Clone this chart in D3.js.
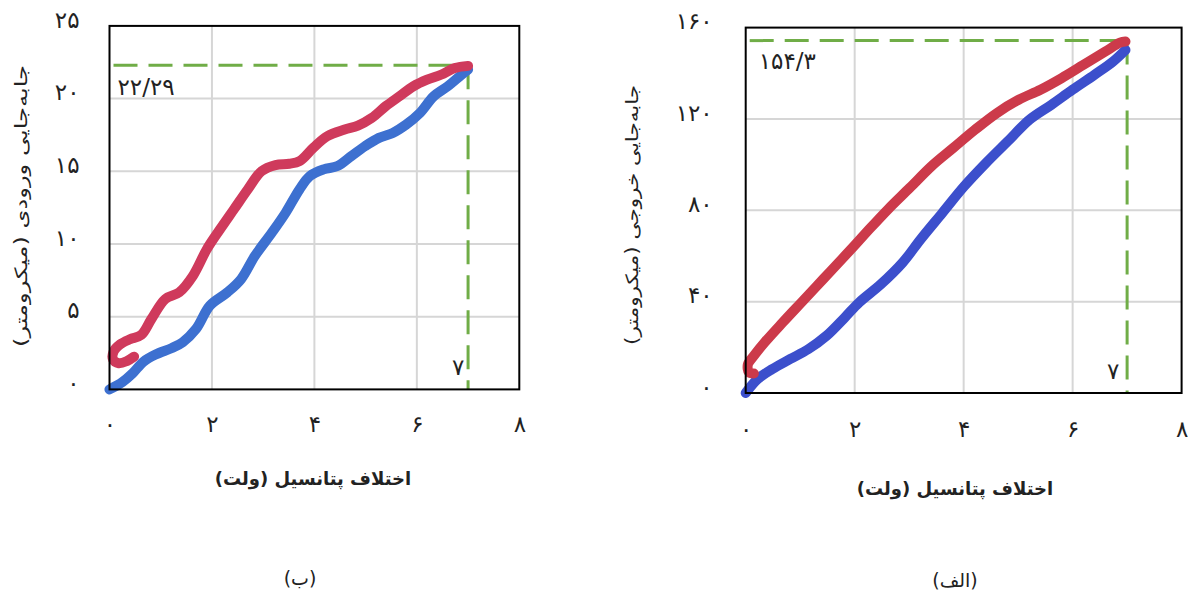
<!DOCTYPE html>
<html><head><meta charset="utf-8">
<script src="https://cdn.jsdelivr.net/npm/d3@7"></script>
<style>
html,body{margin:0;padding:0;background:#fff;}
svg{display:block;font-family:"DejaVu Sans",sans-serif;}
</style></head><body>
<svg id="chart" width="1188" height="596"></svg>
<script>
// ---------- data ----------
const xTicks = [0, 2, 4, 6, 8];
const inputTicks = [0, 5, 10, 15, 20, 25];
const outputTicks = [0, 40, 80, 120, 160];

// panel (ب): input displacement (µm) vs voltage (V)
const inputRising = [[0,0],[0.25,0.5],[0.45,1.1],[0.66,1.9],[0.9,2.4],[1.22,2.85],[1.43,3.25],[1.69,4.16],[1.96,5.76],[2.30,6.67],[2.57,7.59],[2.84,9.19],[3.17,10.78],[3.44,12.16],[3.71,13.76],[3.91,14.67],[4.18,15.13],[4.45,15.36],[4.72,16.04],[4.99,16.73],[5.26,17.30],[5.53,17.64],[5.79,18.21],[6.06,19.01],[6.33,20.16],[6.60,20.84],[6.87,21.64],[7.0,22.0]];
const inputFalling = [[7.0,22.25],[6.74,22.10],[6.47,21.64],[6.20,21.30],[5.93,20.84],[5.66,20.16],[5.39,19.47],[5.12,18.67],[4.85,18.14],[4.59,17.87],[4.25,17.41],[3.98,16.62],[3.71,15.70],[3.51,15.52],[3.24,15.43],[2.97,15.01],[2.70,13.76],[2.43,12.39],[2.16,11.02],[1.90,9.64],[1.63,7.82],[1.36,6.67],[1.09,6.22],[0.82,4.85],[0.62,3.75],[0.40,3.45],[0.21,3.1],[0.08,2.6],[0.07,2.05],[0.18,1.8],[0.34,1.95],[0.48,2.25]];
const inputPeak = {v: 7, d: 22.29};

// panel (الف): output displacement (µm) vs voltage (V)
const outputRising = [[0,0],[0.22,6.1],[0.49,10.5],[0.82,14.9],[1.15,19.2],[1.48,25.0],[1.82,33.1],[2.08,39.6],[2.48,47.6],[2.88,57.1],[3.21,67.3],[3.61,78.9],[4.01,90.5],[4.41,100.7],[4.81,110.2],[5.21,119.7],[5.61,126.2],[6.00,132.8],[6.40,139.3],[6.74,145.1],[6.97,150.2]];
const outputFalling = [[6.97,153.9],[6.87,153.4],[6.60,149.5],[6.20,143.7],[5.80,137.9],[5.41,132.8],[5.01,128.4],[4.61,122.6],[4.21,115.3],[3.81,107.3],[3.41,99.3],[3.01,89.8],[2.61,80.4],[2.21,70.2],[1.82,60.0],[1.42,49.8],[1.02,39.6],[0.68,30.9],[0.35,22.2],[0.15,16.3],[0.04,12.5],[0.06,9.0],[0.15,8.5]];
const outputPeak = {v: 7, d: 154.3};

const xTitle = "اختلاف پتانسیل (ولت)";
const inputTitle = "جابه‌جایی ورودی  (میکرومتر)";
const outputTitle = "جابه‌جایی خروجی (میکرومتر)";
const panelLabels = ["(ب)", "(الف)"];

// ---------- helpers ----------
const faDigits = "۰۱۲۳۴۵۶۷۸۹";
const fa = v => String(v).replace(/\d/g, d => faDigits[d]).replace(".", "/");

const svg = d3.select("#chart");

function panel(cfg) {
  const x = d3.scaleLinear().domain([0, 8]).range([cfg.left, cfg.right]);
  const y = d3.scaleLinear().domain([0, cfg.ymax]).range([cfg.bottom, cfg.top]);
  const g = svg.append("g");

  // grid
  g.append("g").selectAll("line").data(xTicks.slice(1, -1)).join("line")
    .attr("x1", d => x(d)).attr("x2", d => x(d))
    .attr("y1", y(0)).attr("y2", y(cfg.ymax))
    .attr("stroke", "#d6d6d6").attr("stroke-width", 2);
  g.append("g").selectAll("line").data(cfg.yTicks.slice(1, -1)).join("line")
    .attr("x1", x(0)).attr("x2", x(8))
    .attr("y1", d => y(d)).attr("y2", d => y(d))
    .attr("stroke", "#d6d6d6").attr("stroke-width", 2);

  // dashed peak markers
  const dash = g.append("g").attr("stroke", "#70ad47").attr("stroke-width", 3)
    .attr("stroke-dasharray", "24,11").attr("fill", "none");
  dash.append("line").attr("x1", x(0) + 4).attr("x2", x(cfg.peak.v))
    .attr("y1", y(cfg.peak.d)).attr("y2", y(cfg.peak.d));
  dash.append("line").attr("x1", x(cfg.peak.v)).attr("x2", x(cfg.peak.v))
    .attr("y1", y(cfg.peak.d)).attr("y2", y(0));

  // curves
  const line = d3.line().x(d => x(d[0])).y(d => y(d[1])).curve(d3.curveCatmullRom.alpha(0.5));
  g.append("path").datum(cfg.rising).attr("d", line)
    .attr("fill", "none").attr("stroke", cfg.blue).attr("stroke-width", 10)
    .attr("stroke-linecap", "round").attr("stroke-linejoin", "round");
  g.append("path").datum(cfg.falling).attr("d", line)
    .attr("fill", "none").attr("stroke", cfg.red).attr("stroke-width", 10)
    .attr("stroke-linecap", "round").attr("stroke-linejoin", "round");

  // frame
  g.append("rect").attr("x", x(0)).attr("y", y(cfg.ymax))
    .attr("width", x(8) - x(0)).attr("height", y(0) - y(cfg.ymax))
    .attr("fill", "none").attr("stroke", "#000").attr("stroke-width", 2);

  // axes (labels only)
  const ax = g.append("g").attr("transform", `translate(0,${y(0)})`)
    .call(d3.axisBottom(x).tickValues(xTicks).tickSize(0).tickPadding(cfg.xPad).tickFormat(fa));
  const ay = g.append("g").attr("transform", `translate(${x(0)},0)`)
    .call(d3.axisLeft(y).tickValues(cfg.yTicks).tickSize(0).tickPadding(cfg.yPad).tickFormat(fa));
  [ax, ay].forEach(a => {
    a.select(".domain").remove();
    a.selectAll("text").attr("font-size", 23).attr("fill", "#222").attr("font-family", "DejaVu Sans");
  });
  ay.selectAll("text").attr("dy", "0.05em");

  // annotations
  g.append("text").attr("x", x(0) + cfg.peakLabelDx).attr("y", y(cfg.peak.d) + cfg.peakLabelDy)
    .attr("font-size", 23).attr("fill", "#222").text(fa(cfg.peak.d));
  g.append("text").attr("x", x(cfg.peak.v) - cfg.vLabelDx).attr("y", y(0) - 14)
    .attr("text-anchor", "middle").attr("font-size", 23).attr("fill", "#222").text(fa(cfg.peak.v));

  // titles
  g.append("text").attr("x", cfg.xTitleX).attr("y", cfg.xTitleY)
    .attr("direction", "rtl").attr("text-anchor", "middle")
    .attr("font-size", 18).attr("font-weight", "bold").attr("fill", "#222").text(xTitle);
  g.append("text")
    .attr("transform", `translate(${cfg.yTitleX},${cfg.yTitleY}) rotate(-90)`)
    .attr("direction", "rtl").attr("text-anchor", "middle").attr("dominant-baseline", "central")
    .attr("font-size", 17).attr("fill", "#222")
    .attr("textLength", cfg.yTitleLen).attr("lengthAdjust", "spacingAndGlyphs")
    .text(cfg.yTitle);
  g.append("text").attr("x", cfg.subX).attr("y", cfg.subY)
    .attr("direction", "rtl").attr("text-anchor", "middle")
    .attr("font-size", 19).attr("fill", "#222").text(cfg.sub);
}

panel({
  left: 109.5, right: 519.3, top: 25.9, bottom: 389.4, ymax: 25,
  yTicks: inputTicks, rising: inputRising, falling: inputFalling, peak: inputPeak,
  blue: "#3d70d0", red: "#cf3a5c", xPad: 26, yPad: 30,
  peakLabelDx: 8, peakLabelDy: 30, vLabelDx: 10,
  xTitleX: 313, xTitleY: 485, yTitleX: 21, yTitleY: 206, yTitle: inputTitle, yTitleLen: 282,
  subX: 300, subY: 585, sub: panelLabels[0]
});
panel({
  left: 745.7, right: 1181.6, top: 27.6, bottom: 393, ymax: 160,
  yTicks: outputTicks, rising: outputRising, falling: outputFalling, peak: outputPeak,
  blue: "#3c4fcc", red: "#cc3a4a", xPad: 27.5, yPad: 33,
  peakLabelDx: 13, peakLabelDy: 28, vLabelDx: 14,
  xTitleX: 955, xTitleY: 495, yTitleX: 632, yTitleY: 215, yTitle: outputTitle, yTitleLen: 260,
  subX: 955, subY: 587, sub: panelLabels[1]
});
</script>
</body></html>
